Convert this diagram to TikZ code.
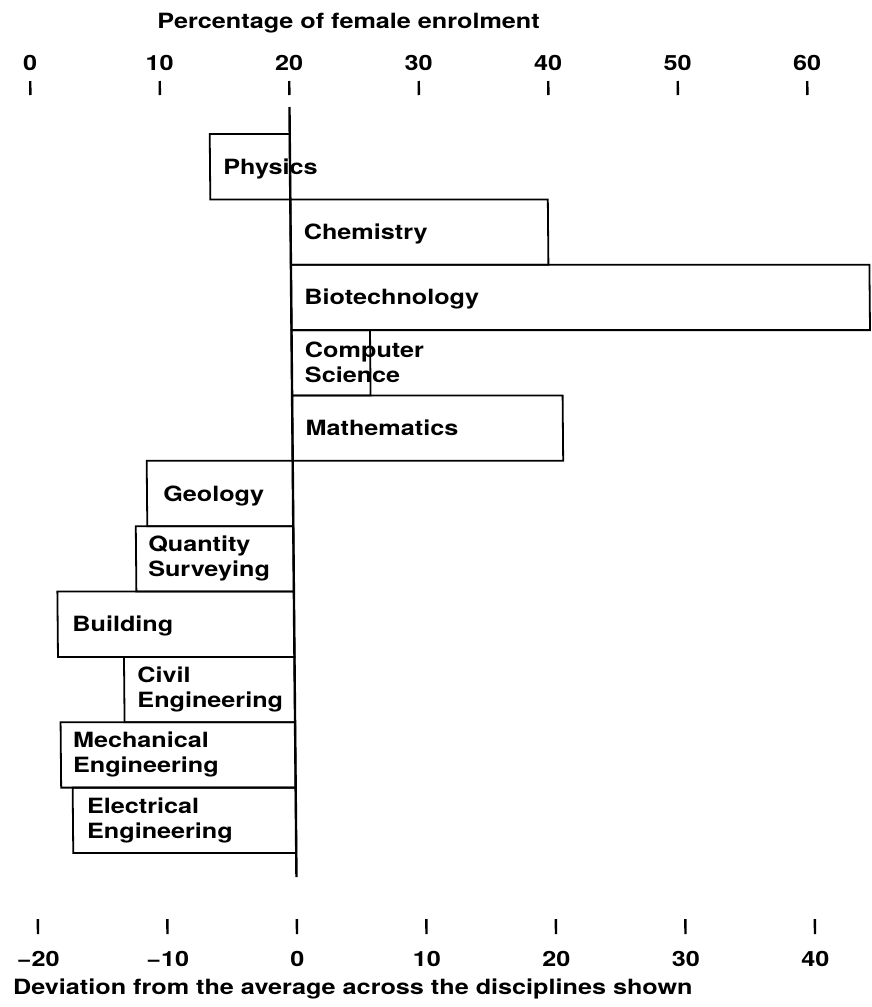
\documentclass[tikz,border=0pt]{standalone}
\usepackage{fontspec}
\setmainfont{TeX Gyre Heros}[FakeStretch=1.2]
\begin{document}
\begin{tikzpicture}[x=1pt,y=-1pt,
  bar/.style={draw=black,line width=1.8pt},
  lbl/.style={anchor=west,inner sep=0pt,align=left,
    font=\fontsize{21}{25}\selectfont\bfseries},
  onelbl/.style={anchor=base west,inner sep=0pt,
    font=\fontsize{21}{25}\selectfont\bfseries},
  axlbl/.style={anchor=base,inner sep=0pt,font=\fontsize{21}{25}\selectfont\bfseries},
  axtitle/.style={anchor=base west,inner sep=0pt,font=\fontsize{21}{25}\selectfont\bfseries},
  tickmark/.style={line width=2.4pt},
  axisline/.style={line width=2.4pt}]
\useasboundingbox (0,0) rectangle (872,1007);
\begin{scope}[xslant=-0.00909]
  % axis titles
  \node[axtitle] (toptitle) at (157,28) {Percentage of female enrolment};
  \node[axtitle] (bottitle) at (4,994) {Deviation from the average across the disciplines shown};
  % ticks and tick labels (both scales share the same positions)
  \foreach \k/\pct/\dev in {0/0/−20,1/10/−10,2/20/0,3/30/10,4/40/20,5/50/30,6/60/40}{
    \pgfmathsetmacro{\xx}{29.5+129.5*\k}
    \draw[tickmark] (\xx,81) -- (\xx,95);
    \node[axlbl] (tl\k) at (\xx,70) {\pct};
    \draw[tickmark] (\xx,919) -- (\xx,934);
    \node[axlbl] (bl\k) at (\xx,966) {\dev};
  }
  % bars
  \draw[bar] (208.5,134.0) rectangle (288.5,199.4);
  \draw[bar] (288.5,199.4) rectangle (546.0,264.7);
  \draw[bar] (288.5,264.7) rectangle (867.0,330.1);
  \draw[bar] (288.5,330.1) rectangle (367.0,395.4);
  \draw[bar] (288.5,395.4) rectangle (559.0,460.8);
  \draw[bar] (142.5,460.8) rectangle (288.5,526.2);
  \draw[bar] (131.0,526.2) rectangle (288.5,591.5);
  \draw[bar] (52.0,591.5) rectangle (288.5,656.9);
  \draw[bar] (118.0,656.9) rectangle (288.5,722.2);
  \draw[bar] (54.0,722.2) rectangle (288.5,787.6);
  \draw[bar] (65.5,787.6) rectangle (288.5,853.0);
  % central (average) line
  \coordinate (axtop) at (288.5,107);
  \coordinate (axbot) at (288.5,877);
  \draw[axisline] (axtop) -- (axbot);
  % discipline labels
  \node[onelbl] (physics) at (221.5,174.4) {Physics};
  \node[onelbl] (chemistry) at (301.5,239.5) {Chemistry};
  \node[onelbl] (biotech) at (301.5,304.9) {Biotechnology};
  \node[lbl] (compsci) at (301.5,362.0) {Computer\\Science};
  \node[onelbl] (maths) at (301.5,435.6) {Mathematics};
  \node[onelbl] (geology) at (158.5,501.0) {Geology};
  \node[lbl] (qs) at (143.0,558.8) {Quantity\\Surveying};
  \node[onelbl] (building) at (66.5,631.7) {Building};
  \node[lbl] (civil) at (131.0,689.5) {Civil\\Engineering};
  \node[lbl] (mech) at (66.0,754.9) {Mechanical\\Engineering};
  \node[lbl] (elec) at (79.5,820.3) {Electrical\\Engineering};
\end{scope}
\end{tikzpicture}
\end{document}
